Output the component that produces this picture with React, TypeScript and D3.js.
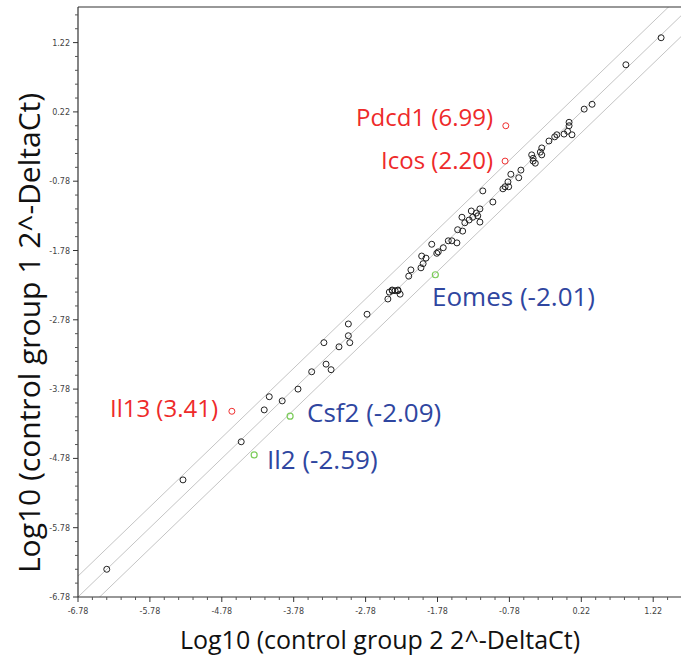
import React from "react";
import * as d3 from "d3";

// control group 2 (x), control group 1 (y), log10 values
const pointsX = [1.33, 0.84, 0.37, 0.26, 0.05, 0.05, 0.03, 0.09, -0.02, -0.12, -0.15, -0.23, -0.33, -0.35, -0.33, -0.47, -0.45, -0.45, -0.42, -0.62, -0.65, -0.76, -0.80, -0.84, -0.87, -0.79, -1.15, -1.01, -1.19, -1.31, -1.24, -1.22, -1.29, -1.34, -1.19, -1.44, -1.40, -1.50, -1.43, -1.63, -1.58, -1.51, -1.70, -1.77, -1.86, -1.79, -2.00, -1.94, -1.98, -2.01, -2.15, -2.18, -2.33, -2.41, -2.45, -2.41, -2.37, -2.33, -2.30, -2.47, -2.76, -3.02, -3.02, -3.00, -3.15, -3.36, -3.33, -3.26, -3.53, -3.72, -4.12, -3.94, -4.19, -4.51, -5.32, -6.38];
const pointsY = [1.29, 0.90, 0.33, 0.26, 0.07, 0.02, -0.06, -0.11, -0.10, -0.11, -0.14, -0.20, -0.30, -0.36, -0.40, -0.40, -0.45, -0.49, -0.52, -0.62, -0.73, -0.68, -0.79, -0.86, -0.89, -0.86, -0.92, -1.08, -1.18, -1.21, -1.24, -1.28, -1.30, -1.34, -1.37, -1.30, -1.38, -1.48, -1.50, -1.64, -1.64, -1.67, -1.74, -1.80, -1.69, -1.82, -1.86, -1.89, -1.97, -2.03, -2.06, -2.15, -2.36, -2.36, -2.38, -2.35, -2.36, -2.35, -2.41, -2.48, -2.70, -2.84, -3.01, -3.11, -3.17, -3.11, -3.42, -3.50, -3.53, -3.78, -3.89, -3.95, -4.08, -4.54, -5.09, -6.38];

const upGenes = ["Pdcd1 (6.99)", "Icos (2.20)", "Il13 (3.41)"];
const upX = [-0.83, -0.84, -4.64];
const upY = [0.02, -0.49, -4.10];

const downGenes = ["Eomes (-2.01)", "Csf2 (-2.09)", "Il2 (-2.59)"];
const downX = [-1.81, -3.83, -4.33];
const downY = [-2.13, -4.17, -4.73];

const tickLabels = ["-6.78", "-5.78", "-4.78", "-3.78", "-2.78", "-1.78", "-0.78", "0.22", "1.22"];
const foldLines = [Math.log10(2), 0, -Math.log10(2)];

const W = 681;
const H = 658;
const L = 78, T = 7, R = 681, B = 597;

export default function App() {
  const x = d3.scaleLinear().domain([-6.78, -6.78 + (R - L) / 71.9]).range([L, R]);
  const y = d3.scaleLinear().domain([-6.78, -6.78 + (B - T) / 69.3]).range([B, T]);
  const majors = tickLabels.map(Number);
  const minors: number[] = [];
  for (let i = 0; i < 60; i++) {
    const v = -6.78 + i * 0.2;
    if (i % 5 !== 0) minors.push(v);
  }
  const xMinors = minors.filter((v) => x(v) <= R);
  const yMinors = minors.filter((v) => y(v) >= T);
  const seg = d3.line<[number, number]>();
  const ptsIdx = d3.range(pointsX.length);
  const tickFont = "DejaVu Sans, sans-serif";
  const labelFont = "'Open Sans', 'Noto Sans', sans-serif";
  const upLabelAnchors = [[493, 126], [493, 169], [218, 417]];
  const downLabelAnchors = [[432, 306], [307, 422], [267, 469]];
  return (
    <svg width={W} height={H} style={{ position: "absolute", left: 0, top: 0, background: "#fff" }}>
      <defs>
        <clipPath id="plot">
          <rect x={L} y={T} width={R - L} height={B - T} />
        </clipPath>
      </defs>
      <g clipPath="url(#plot)">
        {foldLines.map((o, i) => (
          <path key={i} d={seg([[x(-8), y(-8 + o)], [x(3), y(3 + o)]]) as string} stroke="#c4c4c4" strokeWidth={1} fill="none" />
        ))}
      </g>
      {/* frame */}
      <line x1={L} y1={T} x2={R} y2={T} stroke="#333" strokeWidth={1.2} />
      <line x1={L} y1={T} x2={L} y2={B} stroke="#333" strokeWidth={1.2} />
      <line x1={L} y1={B} x2={R} y2={B} stroke="#333" strokeWidth={1.2} />
      {/* y ticks */}
      {majors.map((v, i) => (
        <g key={"ym" + i}>
          <line x1={L - 5} x2={L} y1={y(v)} y2={y(v)} stroke="#333" />
          <text x={L - 8} y={y(v) + 3} fontSize={8} fontFamily={tickFont} fill="#444" textAnchor="end">{tickLabels[i]}</text>
        </g>
      ))}
      {yMinors.map((v, i) => (
        <line key={"yn" + i} x1={L - 3} x2={L} y1={y(v)} y2={y(v)} stroke="#555" />
      ))}
      {/* x ticks */}
      {majors.map((v, i) => (
        <g key={"xm" + i}>
          <line x1={x(v)} x2={x(v)} y1={B} y2={B + 5} stroke="#333" />
          <text x={x(v)} y={B + 17} fontSize={8} fontFamily={tickFont} fill="#444" textAnchor="middle">{tickLabels[i]}</text>
        </g>
      ))}
      {xMinors.map((v, i) => (
        <line key={"xn" + i} x1={x(v)} x2={x(v)} y1={B} y2={B + 3} stroke="#555" />
      ))}
      {/* points */}
      {ptsIdx.map((i) => (
        <circle key={"p" + i} cx={x(pointsX[i])} cy={y(pointsY[i])} r={3} fill="none" stroke="#222" strokeWidth={1} />
      ))}
      {upGenes.map((g, i) => (
        <g key={"u" + i}>
          <circle cx={x(upX[i])} cy={y(upY[i])} r={3} fill="none" stroke="#f03030" strokeWidth={1} />
          <text x={upLabelAnchors[i][0]} y={upLabelAnchors[i][1]} fontSize={24} fontFamily={labelFont} fill="#ee2a2a" textAnchor="end">{g}</text>
        </g>
      ))}
      {downGenes.map((g, i) => (
        <g key={"d" + i}>
          <circle cx={x(downX[i])} cy={y(downY[i])} r={3} fill="none" stroke="#7ccc5a" strokeWidth={1.2} />
          <text x={downLabelAnchors[i][0]} y={downLabelAnchors[i][1]} fontSize={26} fontFamily={labelFont} fill="#2f46a0" textAnchor="start">{g}</text>
        </g>
      ))}
      <text x={380} y={649} fontSize={25} fontFamily={labelFont} fill="#111" textAnchor="middle">Log10 (control group 2 2^-DeltaCt)</text>
      <text transform={`translate(40, 333) rotate(-90)`} fontSize={30} fontFamily={labelFont} fill="#111" textAnchor="middle">Log10 (control group 1 2^-DeltaCt)</text>
    </svg>
  );
}
